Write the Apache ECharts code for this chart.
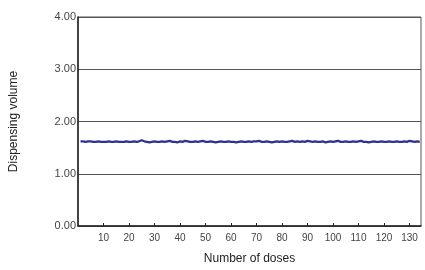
<!DOCTYPE html>
<html>
<head>
<meta charset="utf-8">
<script src="https://cdn.jsdelivr.net/npm/echarts@6/dist/echarts.min.js"></script>
<style>
  html, body { margin: 0; padding: 0; background: #fff; }
  #main { width: 425px; height: 270px; }
</style>
</head>
<body>
<div id="main"></div>
<script>
// dispensing volume per dose
const volumes = [
    1.62, 1.62, 1.61, 1.62, 1.62, 1.61, 1.61, 1.62, 1.61, 1.61,
    1.61, 1.62, 1.61, 1.61, 1.62, 1.61, 1.61, 1.61, 1.62, 1.61,
    1.61, 1.62, 1.61, 1.62, 1.64, 1.62, 1.61, 1.60, 1.61, 1.62,
    1.61, 1.61, 1.62, 1.61, 1.62, 1.63, 1.61, 1.61, 1.60, 1.62,
    1.61, 1.63, 1.62, 1.61, 1.61, 1.62, 1.61, 1.62, 1.63, 1.61,
    1.61, 1.62, 1.61, 1.60, 1.61, 1.62, 1.61, 1.61, 1.62, 1.61,
    1.61, 1.60, 1.61, 1.62, 1.61, 1.61, 1.62, 1.61, 1.62, 1.62,
    1.63, 1.61, 1.61, 1.62, 1.61, 1.60, 1.61, 1.62, 1.61, 1.62,
    1.61, 1.61, 1.62, 1.63, 1.61, 1.62, 1.61, 1.62, 1.61, 1.63,
    1.62, 1.61, 1.62, 1.61, 1.61, 1.62, 1.60, 1.61, 1.62, 1.61,
    1.62, 1.63, 1.61, 1.61, 1.62, 1.61, 1.61, 1.62, 1.61, 1.62,
    1.63, 1.61, 1.61, 1.60, 1.61, 1.62, 1.61, 1.61, 1.62, 1.61,
    1.61, 1.62, 1.61, 1.61, 1.62, 1.61, 1.61, 1.62, 1.61, 1.63,
    1.62, 1.61, 1.62, 1.61
];
const doses = volumes.map((v, i) => i + 1);
const yTicks = [0, 1, 2, 3, 4];

const chartDom = document.getElementById('main'),
    chart = echarts.init(chartDom, null, { renderer: 'canvas' });

let option;

option = {
    animation: false,
    textStyle: { fontFamily: 'Liberation Sans' },
    grid: {
        left: 77,
        right: 4,
        top: 17,
        bottom: 40,
        show: true,
        borderColor: '#555',
        borderWidth: 1
    },
    xAxis: {
        type: 'value',
        min: 0,
        max: 134.5,
        interval: 10,
        name: 'Number of doses',
        nameLocation: 'middle',
        nameGap: 27,
        nameTextStyle: { fontSize: 12, color: '#222' },
        axisLine: { show: true, lineStyle: { color: '#222', width: 1.5 } },
        axisTick: { show: true, inside: true, length: 3, lineStyle: { color: '#222' } },
        axisLabel: {
            fontSize: 10,
            color: '#444',
            margin: 7,
            showMinLabel: false,
            showMaxLabel: false,
            formatter: function (val) {
                return val === 0 ? '' : val;
            }
        },
        splitLine: { show: false }
    },
    yAxis: {
        type: 'value',
        min: yTicks[0],
        max: yTicks[yTicks.length - 1],
        interval: 1,
        name: 'Dispensing volume',
        nameLocation: 'middle',
        nameGap: 58,
        nameRotate: 90,
        nameTextStyle: { fontSize: 12, color: '#222' },
        axisLine: { show: true, lineStyle: { color: '#222', width: 1.5 } },
        axisTick: { show: false },
        axisLabel: {
            fontSize: 11,
            color: '#444',
            margin: 2,
            formatter: function (val) {
                return val.toFixed(2);
            }
        },
        splitLine: { show: true, lineStyle: { color: '#555', width: 1 } }
    },
    series: [
        {
            name: 'Dispensing volume',
            type: 'line',
            showSymbol: false,
            lineStyle: { color: '#2e3192', width: 2.2 },
            data: doses.map((d, i) => [d, volumes[i]])
        }
    ]
};

option && chart.setOption(option);
</script>
</body>
</html>
